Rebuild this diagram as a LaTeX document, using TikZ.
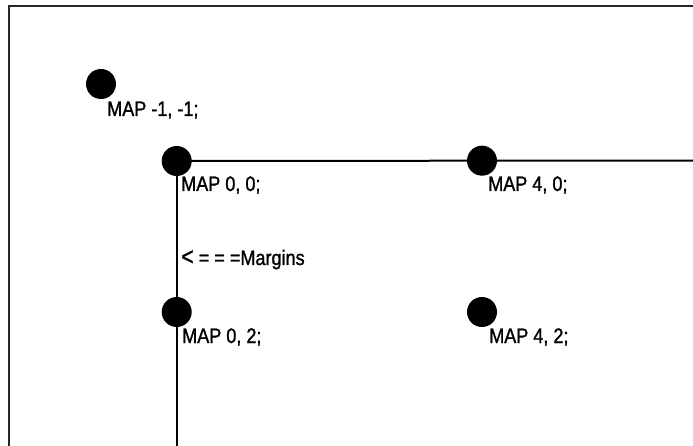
\documentclass[tikz,border=0pt]{standalone}
\usepackage{fontspec}
\setmainfont{Liberation Sans}[FakeStretch=0.86, FakeBold=1.2]
\usepackage{tikz}

\tikzset{
	dot/.style={circle, fill=black, inner sep=0pt, minimum size=30pt},
	maplabel/.style={anchor=base west, inner sep=0pt, font=\fontsize{21}{23}\selectfont},
	rule/.style={black, line width=2pt}
}

\begin{document}
\begin{tikzpicture}[x=1pt, y=-1pt]
			\useasboundingbox (0,0) rectangle (693,446);
			% frame
			\draw[line width=2pt, black!85] (9,446) -- (9,6.5) -- (693,6.5);
			% dots
			\node[dot] (Dm) at (101,84) {};
			\node[dot] (D00) at (176.7,161) {};
			\node[dot] (D40) at (482,160.7) {};
			\node[dot] (D02) at (176.7,312) {};
			\node[dot] (D42) at (482,312) {};
			\coordinate (E1) at (693,160.7);
			\coordinate (E2) at (176.7,446);
			\draw[rule] (D00.center) -- (D40) -- (E1);
			\draw[rule] (D00.center) -- (D02) -- (E2);
			% labels
			\node[maplabel] (Lm) at (107,116) {MAP -1, -1;};
			\node[maplabel] (L00) at (181,191) {MAP 0, 0;};
			\node[maplabel] (LM) at (181,265) {{\fontsize{25}{27}\selectfont<} = = =Margins};
			\node[maplabel] (L02) at (182,343) {MAP 0, 2;};
			\node[maplabel] (L40) at (488,191) {MAP 4, 0;};
			\node[maplabel] (L42) at (489,343) {MAP 4, 2;};
		\end{tikzpicture}
\end{document}
